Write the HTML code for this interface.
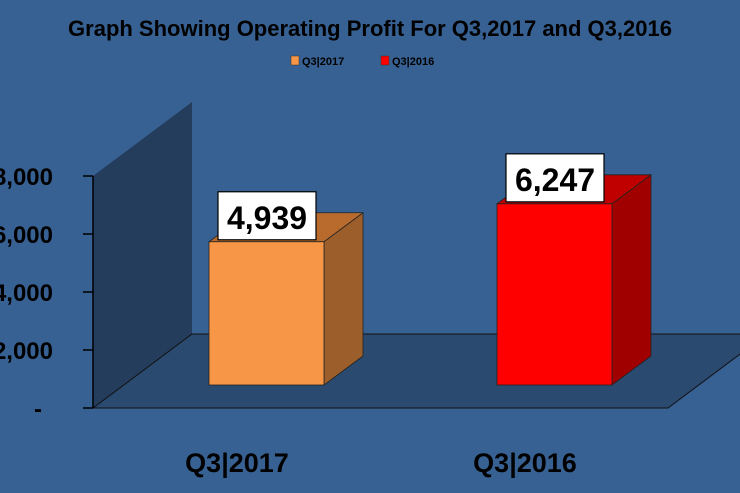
<!DOCTYPE html>
<html><head><meta charset="utf-8"><style>
html,body{margin:0;padding:0;background:#386193;}
svg{display:block;font-family:"Liberation Sans",Arial,sans-serif;}
</style></head><body>
<svg width="740" height="493" viewBox="0 0 740 493">
<rect width="740" height="493" fill="#386193"/>
<text x="370" y="36" text-anchor="middle" font-size="22" font-weight="bold" fill="#000">Graph Showing Operating Profit For Q3,2017 and Q3,2016</text>
<g>
<g><rect x="291" y="56" width="8" height="9" fill="#f79646" stroke="#333" stroke-width="0.5"/><text x="302" y="65" font-size="11" font-weight="bold" fill="#000">Q3|2017</text></g>
<g><rect x="381" y="56" width="8" height="9" fill="#ff0000" stroke="#333" stroke-width="0.5"/><text x="392" y="65" font-size="11" font-weight="bold" fill="#000">Q3|2016</text></g>
</g>
<g id="plot"></g>
</svg>
<script>
const categories = ["Q3|2017", "Q3|2016"];
const values = [4939, 6247];
const valueLabels = ["4,939", "6,247"];
const tickValues = [0, 2000, 4000, 6000, 8000];
const tickLabels = ["-", "2,000", "4,000", "6,000", "8,000"];
const colors = [["#f79646","#b86b2c","#9c5f2b"],["#ff0000","#c00000","#a00000"]];

const NS="http://www.w3.org/2000/svg";
const plot=document.getElementById('plot');
const x0=93, yBase=408, pxPer=58/2000, DX=99, DY=-74, floorRight=668;
function y(v){return yBase - v*pxPer;}
function mk(tag,attrs,parent){const e=document.createElementNS(NS,tag);for(const k in attrs)e.setAttribute(k,attrs[k]);(parent||plot).appendChild(e);return e;}

// back wall
const wall=mk('polygon',{points:`${x0},${y(8000)} ${x0+DX},${y(8000)+DY} ${x0+DX},${yBase+DY} ${x0},${yBase}`,fill:'#243d5d'});


// floor
const floor=mk('polygon',{points:`${x0},${yBase} ${x0+DX},${yBase+DY} 760,${yBase+DY} 760,${yBase+DY+0} ${floorRight+DX},${yBase+DY} ${floorRight},${yBase}`,fill:'#2a4a70',stroke:'#111','stroke-width':1});


// y axis
const ax=mk('line',{x1:x0,y1:y(8000),x2:x0,y2:yBase,stroke:'#000','stroke-width':1.5});


tickValues.forEach((v,i)=>{
  const t=mk('line',{x1:x0-10,y1:y(v),x2:x0,y2:y(v),stroke:'#000','stroke-width':1.5});
  
  
  const lbl=mk('text',{x:i===0?38:53,y:y(v)+9,'text-anchor':i===0?'middle':'end','font-size':24,'font-weight':'bold',fill:'#000'});
  lbl.textContent=tickLabels[i];
  
  
});
// bars
const barLeft=[209,497], barW=115, bDX=39, bDY=-29, barBottom=385, catCenters=[237,525];
values.forEach((v,i)=>{
  const g=mk('g',{});
  
  
  const xl=barLeft[i], xr=xl+barW, top=barBottom - v*pxPer;
  mk('polygon',{points:`${xl},${top} ${xl+bDX},${top+bDY} ${xr+bDX},${top+bDY} ${xr},${top}`,fill:colors[i][1],stroke:'#222','stroke-width':0.8},g);
  mk('polygon',{points:`${xr},${top} ${xr+bDX},${top+bDY} ${xr+bDX},${barBottom+bDY} ${xr},${barBottom}`,fill:colors[i][2],stroke:'#222','stroke-width':0.8},g);
  mk('rect',{x:xl,y:top,width:barW,height:barBottom-top,fill:colors[i][0],stroke:'#222','stroke-width':0.8},g);
  const bx=xl+9, by=top-50;
  const box=mk('rect',{x:bx,y:by,width:98,height:48,fill:'#fff',stroke:'#000','stroke-width':1.2});
  
  
  const vt=mk('text',{x:bx+49,y:by+37,'text-anchor':'middle','font-size':32,'font-weight':'bold',fill:'#000'});
  vt.textContent=valueLabels[i];
  
  
  const ct=mk('text',{x:catCenters[i],y:472,'text-anchor':'middle','font-size':27,'font-weight':'bold',fill:'#000'});
  ct.textContent=categories[i];
  
  
});
</script>
</body></html>
